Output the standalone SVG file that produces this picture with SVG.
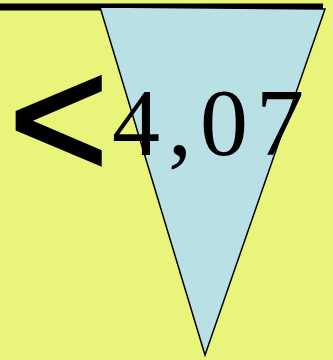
<svg xmlns="http://www.w3.org/2000/svg" width="333" height="360" viewBox="0 0 333 360">
<style>
.sans{font-family:"Liberation Sans",Arial,sans-serif;fill:#000}
.serif{font-family:"Liberation Serif","Times New Roman",serif;fill:#000}
</style>
<rect x="0" y="0" width="333" height="360" fill="#E8F47A"/>
<g id="bar">
<line x1="0" y1="7" x2="323" y2="7" stroke="#000" stroke-width="7"/>
</g>
<g id="triangle">
<polygon points="100,7 325,9 205,355" fill="#B9E0E4" stroke="#000" stroke-width="1.5" stroke-linejoin="miter"/>
</g>
<g id="labels">
<text class="sans" x="9" y="177" font-size="170" stroke="#000" stroke-width="3.5">&lt;</text>
<text class="serif" x="112" y="155" font-size="96" letter-spacing="8">4,07</text>
</g>
</svg>
